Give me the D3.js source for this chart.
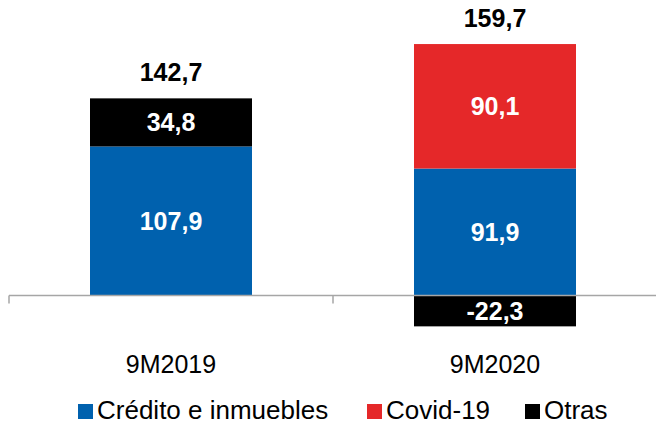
<!DOCTYPE html>
<html>
<head>
<meta charset="utf-8">
<script src="https://cdn.jsdelivr.net/npm/d3@7"></script>
<style>
  body { margin: 0; background: #fff; }
  svg { font-family: "Liberation Sans", Arial, sans-serif; }
</style>
</head>
<body>
<svg id="chart"></svg>
<script>
// data
const categories = ['9M2019', '9M2020'];
const seriesNames = ['Crédito e inmuebles', 'Covid-19', 'Otras'];
const credito = [107.9, 91.9];
const covid = [0, 90.1];
const otras = [34.8, -22.3];
const totals = [142.7, 159.7];
const colors = ['#0061AE', '#E52829', '#000000'];

const width = 656, height = 425;

const svg = d3.select('#chart')
  .attr('width', width)
  .attr('height', height);

const rows = categories.map((c, i) => ({
  cat: c,
  'Crédito e inmuebles': credito[i],
  'Covid-19': covid[i],
  'Otras': otras[i]
}));

const stack = d3.stack()
  .keys(seriesNames)
  .offset(d3.stackOffsetDiverging);
const layers = stack(rows);

const x = d3.scaleBand()
  .domain(categories)
  .range([9, 657])
  .paddingInner(0.5)
  .paddingOuter(0.25);

const y = d3.scaleLinear()
  .domain([-30, 190])
  .range([337, 33]);

// spanish style: comma decimal, plain hyphen for minus
const locale = d3.formatLocale({ decimal: ',', thousands: '.', grouping: [3], currency: ['', '€'], minus: '-' });
const fmt = locale.format('.1f');

// bars
const layerG = svg.selectAll('g.layer')
  .data(layers)
  .join('g')
  .attr('class', 'layer')
  .attr('fill', (d, i) => colors[i]);

layerG.selectAll('rect')
  .data(d => d.filter(s => s[1] !== s[0]))
  .join('rect')
  .attr('x', d => x(d.data.cat))
  .attr('width', x.bandwidth())
  .attr('y', d => y(Math.max(d[0], d[1])))
  .attr('height', d => Math.abs(y(d[0]) - y(d[1])));

// segment labels
layerG.selectAll('text')
  .data(d => d.filter(s => s[1] !== s[0]).map(s => ({ s, key: d.key })))
  .join('text')
  .attr('x', d => x(d.s.data.cat) + x.bandwidth() / 2)
  .attr('y', d => (y(d.s[0]) + y(d.s[1])) / 2)
  .attr('dy', '0.36em')
  .attr('text-anchor', 'middle')
  .attr('fill', '#fff')
  .attr('font-weight', 'bold')
  .attr('font-size', 25)
  .text(d => fmt(d.s.data[d.key]));

// totals above the positive stack
const topOf = cat => d3.max(layers, l => d3.max(l.filter(s => s.data.cat === cat), s => Math.max(s[0], s[1])));
svg.selectAll('text.total')
  .data(categories)
  .join('text')
  .attr('class', 'total')
  .attr('x', d => x(d) + x.bandwidth() / 2)
  .attr('y', d => y(topOf(d)) - 17)
  .attr('text-anchor', 'middle')
  .attr('font-weight', 'bold')
  .attr('font-size', 25)
  .attr('fill', '#000')
  .text((d, i) => fmt(totals[i]));

// zero axis with ticks at category boundaries
const axisG = svg.append('g').attr('stroke', '#a6a6a6').attr('stroke-width', 1.5);
axisG.append('line')
  .attr('x1', 9).attr('x2', 657)
  .attr('y1', y(0)).attr('y2', y(0));
const bounds = [0, 1, 2].map(i => 9 + i * x.step());
axisG.selectAll('line.tick')
  .data(bounds)
  .join('line')
  .attr('class', 'tick')
  .attr('x1', d => d).attr('x2', d => d)
  .attr('y1', y(0)).attr('y2', y(0) + 8);

// category labels
svg.selectAll('text.cat')
  .data(categories)
  .join('text')
  .attr('class', 'cat')
  .attr('x', d => x(d) + x.bandwidth() / 2)
  .attr('y', 373)
  .attr('text-anchor', 'middle')
  .attr('font-size', 25)
  .attr('fill', '#000')
  .text(d => d);

// legend
const legendX = [78, 367, 525];
const legend = svg.selectAll('g.legend')
  .data(seriesNames)
  .join('g')
  .attr('class', 'legend')
  .attr('transform', (d, i) => `translate(${legendX[i]},404)`);
legend.append('rect')
  .attr('width', 15).attr('height', 15)
  .attr('fill', (d, i) => colors[i]);
legend.append('text')
  .attr('x', 19)
  .attr('y', 15)
  .attr('font-size', 26)
  .attr('fill', '#000')
  .text(d => d);
</script>
</body>
</html>
